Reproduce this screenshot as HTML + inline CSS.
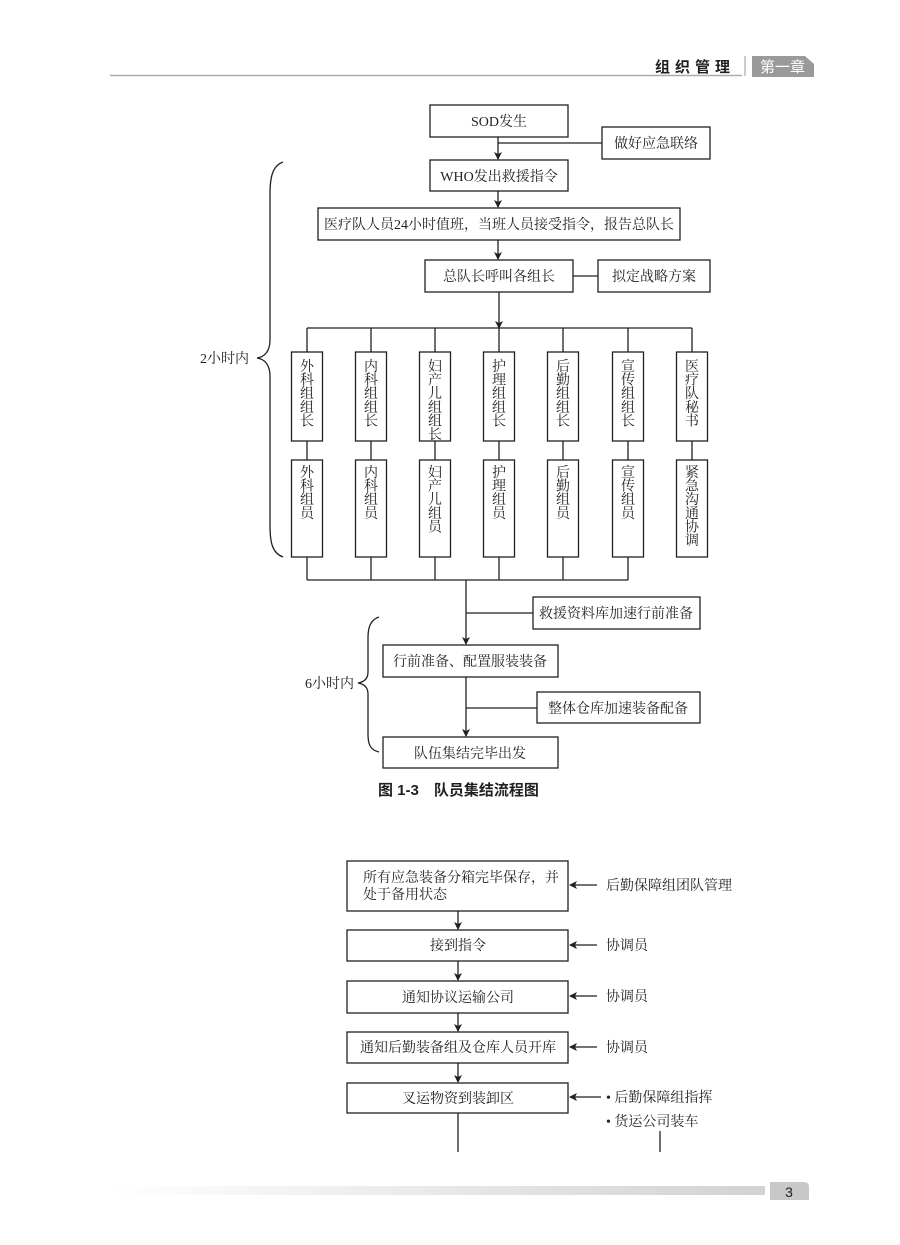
<!DOCTYPE html>
<html><head><meta charset="utf-8"><style>
html,body{margin:0;padding:0;background:#fff}
svg{display:block}
text{font-family:"Liberation Serif","Noto Serif CJK SC",serif;font-size:14px;fill:#231f20}
.s{font-family:"Liberation Sans","Noto Sans CJK SC",sans-serif}
</style></head><body>
<svg width="900" height="1245" viewBox="0 0 900 1245" xmlns="http://www.w3.org/2000/svg">
<defs><marker id="a" markerWidth="8" markerHeight="8" refX="7" refY="4" orient="auto" markerUnits="userSpaceOnUse"><path d="M0,0 L8,4 L0,8 L2,4 Z" fill="#231f20"/></marker></defs>
<line x1="110" y1="75.5" x2="742" y2="75.5" stroke="#aaa" stroke-width="1.5"/>
<line x1="745" y1="56" x2="745" y2="76" stroke="#999" stroke-width="1"/>
<text x="655" y="72" class="s" style="font-size:15px;font-weight:bold;letter-spacing:5px">组织管理</text>
<path d="M752,56 H805 L814,64 V77 H752 Z" fill="#9a9a9a"/>
<text x="760" y="72" class="s" style="font-size:15px;fill:#fff">第一章</text>
<g stroke="#231f20" stroke-width="1.3" fill="none">
<rect x="430" y="105" width="138" height="32"/>
<rect x="602" y="127" width="108" height="32"/>
<rect x="430" y="160" width="138" height="31"/>
<rect x="318" y="208" width="362" height="32"/>
<rect x="425" y="260" width="148" height="32"/>
<rect x="598" y="260" width="112" height="32"/>
<line x1="498" y1="137" x2="498" y2="159" marker-end="url(#a)"/>
<line x1="498" y1="143" x2="602" y2="143"/>
<line x1="498" y1="191" x2="498" y2="207" marker-end="url(#a)"/>
<line x1="498" y1="240" x2="498" y2="259" marker-end="url(#a)"/>
<line x1="573" y1="276" x2="598" y2="276"/>
<line x1="499" y1="292" x2="499" y2="328" marker-end="url(#a)"/>
<line x1="307" y1="328" x2="692" y2="328"/>
<line x1="307" y1="580" x2="628" y2="580"/>
<g>
<line x1="307" y1="328" x2="307" y2="580"/><rect x="291.5" y="352" width="31" height="89" fill="#fff"/><rect x="291.5" y="460" width="31" height="97" fill="#fff"/>
<line x1="371" y1="328" x2="371" y2="580"/><rect x="355.5" y="352" width="31" height="89" fill="#fff"/><rect x="355.5" y="460" width="31" height="97" fill="#fff"/>
<line x1="435" y1="328" x2="435" y2="580"/><rect x="419.5" y="352" width="31" height="89" fill="#fff"/><rect x="419.5" y="460" width="31" height="97" fill="#fff"/>
<line x1="499" y1="328" x2="499" y2="580"/><rect x="483.5" y="352" width="31" height="89" fill="#fff"/><rect x="483.5" y="460" width="31" height="97" fill="#fff"/>
<line x1="563" y1="328" x2="563" y2="580"/><rect x="547.5" y="352" width="31" height="89" fill="#fff"/><rect x="547.5" y="460" width="31" height="97" fill="#fff"/>
<line x1="628" y1="328" x2="628" y2="580"/><rect x="612.5" y="352" width="31" height="89" fill="#fff"/><rect x="612.5" y="460" width="31" height="97" fill="#fff"/>
<line x1="692" y1="328" x2="692" y2="460"/><rect x="676.5" y="352" width="31" height="89" fill="#fff"/><rect x="676.5" y="460" width="31" height="97" fill="#fff"/>
</g>
<line x1="466" y1="580" x2="466" y2="644" marker-end="url(#a)"/>
<line x1="466" y1="613" x2="533" y2="613"/>
<rect x="533" y="597" width="167" height="32"/>
<rect x="383" y="645" width="175" height="32"/>
<line x1="466" y1="677" x2="466" y2="736" marker-end="url(#a)"/>
<line x1="466" y1="708" x2="537" y2="708"/>
<rect x="537" y="692" width="163" height="31"/>
<rect x="383" y="737" width="175" height="31"/>
<path d="M283,162 C272,166 270,178 270,195 V340 C270,352 264,357 257,358 C264,359 270,364 270,376 V525 C270,542 272,553 283,557"/>
<path d="M379,617 C370,620 368,628 368,638 V672 C368,679 364,682 358,683 C364,684 368,687 368,694 V734 C368,744 370,750 379,752"/>
<rect x="347" y="861" width="221" height="50"/>
<rect x="347" y="930" width="221" height="31"/>
<rect x="347" y="981" width="221" height="32"/>
<rect x="347" y="1032" width="221" height="31"/>
<rect x="347" y="1083" width="221" height="30"/>
<line x1="458" y1="911" x2="458" y2="929" marker-end="url(#a)"/>
<line x1="458" y1="961" x2="458" y2="980" marker-end="url(#a)"/>
<line x1="458" y1="1013" x2="458" y2="1031" marker-end="url(#a)"/>
<line x1="458" y1="1063" x2="458" y2="1082" marker-end="url(#a)"/>
<line x1="458" y1="1113" x2="458" y2="1152"/>
<line x1="660" y1="1131" x2="660" y2="1152"/>
<line x1="597" y1="885" x2="570" y2="885" marker-end="url(#a)"/>
<line x1="597" y1="945" x2="570" y2="945" marker-end="url(#a)"/>
<line x1="597" y1="996" x2="570" y2="996" marker-end="url(#a)"/>
<line x1="597" y1="1047" x2="570" y2="1047" marker-end="url(#a)"/>
<line x1="601" y1="1097" x2="570" y2="1097" marker-end="url(#a)"/>
</g>
<g text-anchor="middle">
<text x="499" y="126">SOD发生</text>
<text x="656" y="148">做好应急联络</text>
<text x="499" y="181">WHO发出救援指令</text>
<text x="499" y="229">医疗队人员24小时值班，当班人员接受指令，报告总队长</text>
<text x="499" y="281">总队长呼叫各组长</text>
<text x="654" y="281">拟定战略方案</text>
<text x="616" y="618">救援资料库加速行前准备</text>
<text x="470" y="666">行前准备、配置服装装备</text>
<text x="618" y="713">整体仓库加速装备配备</text>
<text x="470" y="758">队伍集结完毕出发</text>
<text x="458" y="950">接到指令</text>
<text x="458" y="1002">通知协议运输公司</text>
<text x="458" y="1052">通知后勤装备组及仓库人员开库</text>
<text x="458" y="1103">叉运物资到装卸区</text>
</g>
<g text-anchor="middle">
<text x="307" y="371"><tspan x="307">外</tspan><tspan x="307" dy="13.6">科</tspan><tspan x="307" dy="13.6">组</tspan><tspan x="307" dy="13.6">组</tspan><tspan x="307" dy="13.6">长</tspan></text>
<text x="371" y="371"><tspan x="371">内</tspan><tspan x="371" dy="13.6">科</tspan><tspan x="371" dy="13.6">组</tspan><tspan x="371" dy="13.6">组</tspan><tspan x="371" dy="13.6">长</tspan></text>
<text x="435" y="371"><tspan x="435">妇</tspan><tspan x="435" dy="13.6">产</tspan><tspan x="435" dy="13.6">儿</tspan><tspan x="435" dy="13.6">组</tspan><tspan x="435" dy="13.6">组</tspan><tspan x="435" dy="13.6">长</tspan></text>
<text x="499" y="371"><tspan x="499">护</tspan><tspan x="499" dy="13.6">理</tspan><tspan x="499" dy="13.6">组</tspan><tspan x="499" dy="13.6">组</tspan><tspan x="499" dy="13.6">长</tspan></text>
<text x="563" y="371"><tspan x="563">后</tspan><tspan x="563" dy="13.6">勤</tspan><tspan x="563" dy="13.6">组</tspan><tspan x="563" dy="13.6">组</tspan><tspan x="563" dy="13.6">长</tspan></text>
<text x="628" y="371"><tspan x="628">宣</tspan><tspan x="628" dy="13.6">传</tspan><tspan x="628" dy="13.6">组</tspan><tspan x="628" dy="13.6">组</tspan><tspan x="628" dy="13.6">长</tspan></text>
<text x="692" y="371"><tspan x="692">医</tspan><tspan x="692" dy="13.6">疗</tspan><tspan x="692" dy="13.6">队</tspan><tspan x="692" dy="13.6">秘</tspan><tspan x="692" dy="13.6">书</tspan></text>
<text x="307" y="477"><tspan x="307">外</tspan><tspan x="307" dy="13.6">科</tspan><tspan x="307" dy="13.6">组</tspan><tspan x="307" dy="13.6">员</tspan></text>
<text x="371" y="477"><tspan x="371">内</tspan><tspan x="371" dy="13.6">科</tspan><tspan x="371" dy="13.6">组</tspan><tspan x="371" dy="13.6">员</tspan></text>
<text x="435" y="477"><tspan x="435">妇</tspan><tspan x="435" dy="13.6">产</tspan><tspan x="435" dy="13.6">儿</tspan><tspan x="435" dy="13.6">组</tspan><tspan x="435" dy="13.6">员</tspan></text>
<text x="499" y="477"><tspan x="499">护</tspan><tspan x="499" dy="13.6">理</tspan><tspan x="499" dy="13.6">组</tspan><tspan x="499" dy="13.6">员</tspan></text>
<text x="563" y="477"><tspan x="563">后</tspan><tspan x="563" dy="13.6">勤</tspan><tspan x="563" dy="13.6">组</tspan><tspan x="563" dy="13.6">员</tspan></text>
<text x="628" y="477"><tspan x="628">宣</tspan><tspan x="628" dy="13.6">传</tspan><tspan x="628" dy="13.6">组</tspan><tspan x="628" dy="13.6">员</tspan></text>
<text x="692" y="477"><tspan x="692">紧</tspan><tspan x="692" dy="13.6">急</tspan><tspan x="692" dy="13.6">沟</tspan><tspan x="692" dy="13.6">通</tspan><tspan x="692" dy="13.6">协</tspan><tspan x="692" dy="13.6">调</tspan></text>
</g>
<text x="200" y="363">2小时内</text>
<text x="305" y="688">6小时内</text>
<text x="378" y="795" class="s" style="font-size:15px;font-weight:bold">图 1-3　队员集结流程图</text>
<text x="363" y="882">所有应急装备分箱完毕保存，并</text>
<text x="363" y="899">处于备用状态</text>
<text x="606" y="890">后勤保障组团队管理</text>
<text x="606" y="950">协调员</text>
<text x="606" y="1001">协调员</text>
<text x="606" y="1052">协调员</text>
<text x="606" y="1102">• 后勤保障组指挥</text>
<text x="606" y="1126">• 货运公司装车</text>
<defs><linearGradient id="g" x1="0" x2="1"><stop offset="0" stop-color="#fff"/><stop offset="1" stop-color="#d2d2d2"/></linearGradient></defs>
<rect x="110" y="1186" width="655" height="9" fill="url(#g)"/>
<path d="M770,1182 H804 Q809,1182 809,1187 V1200 H770 Z" fill="#c8c8c8"/>
<text x="789" y="1197" text-anchor="middle" class="s" style="font-size:14px">3</text>
</svg>
</body></html>
